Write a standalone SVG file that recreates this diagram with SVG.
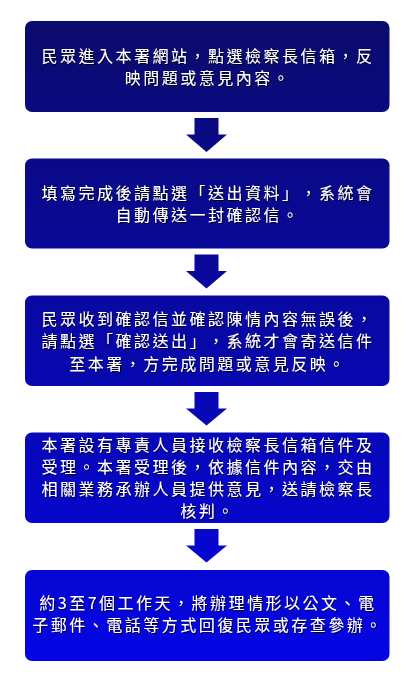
<svg xmlns="http://www.w3.org/2000/svg" width="406" height="682" viewBox="0 0 406 682">
  <defs>
    <linearGradient id="fillGrad" gradientUnits="userSpaceOnUse" x1="0" y1="21" x2="0" y2="661">
      <stop offset="0" stop-color="#0B0B6E"/>
      <stop offset="1" stop-color="#0505E4"/>
    </linearGradient>
    <filter id="shadow" x="-5%" y="-20%" width="110%" height="140%">
      <feDropShadow dx="1" dy="1" stdDeviation="0.4" flood-color="#000000" flood-opacity="0.85"/>
    </filter>
  </defs>
  <style>
    .box { fill: url(#fillGrad); }
    .arrow { fill: url(#fillGrad); }
    .label { fill: #FFFFFF; font-family: "Noto Sans CJK TC", "Noto Sans CJK SC", sans-serif; font-size: 16px; letter-spacing: 2.5px; text-anchor: middle; text-spacing-trim: space-all; filter: url(#shadow); }
  </style>
  <rect width="406" height="682" fill="#FFFFFF"/>

  <g id="connectors">
    <polygon class="arrow" points="194.5,118 218.5,118 218.5,134.5 227,134.5 206.5,152 186,134.5 194.5,134.5"/>
    <polygon class="arrow" points="194.5,254.5 218.5,254.5 218.5,271 227,271 206.5,288.5 186,271 194.5,271"/>
    <polygon class="arrow" points="194.5,392 218.5,392 218.5,408.5 227,408.5 206.5,425.5 186,408.5 194.5,408.5"/>
    <polygon class="arrow" points="194.5,529 218.5,529 218.5,545.5 227,545.5 206.5,562.5 186,545.5 194.5,545.5"/>
  </g>

  <g id="node1">
    <rect class="box" x="25" y="21" width="364.5" height="91" rx="7"/>
    <text class="label" x="208" y="61.5">民眾進入本署網站，點選檢察長信箱，反</text>
    <text class="label" x="208" y="83.5">映問題或意見內容。</text>
  </g>

  <g id="node2">
    <rect class="box" x="25" y="158.5" width="364.5" height="90" rx="7"/>
    <text class="label" x="208" y="198.5">填寫完成後請點選「送出資料」，系統會</text>
    <text class="label" x="208" y="220.5">自動傳送一封確認信。</text>
  </g>

  <g id="node3">
    <rect class="box" x="25" y="295.5" width="364.5" height="90.5" rx="7"/>
    <text class="label" x="208" y="324.5">民眾收到確認信並確認陳情內容無誤後，</text>
    <text class="label" x="208" y="347">請點選「確認送出」，系統才會寄送信件</text>
    <text class="label" x="208" y="369.5">至本署，方完成問題或意見反映。</text>
  </g>

  <g id="node4">
    <rect class="box" x="25" y="432.5" width="364.5" height="90.5" rx="7"/>
    <text class="label" x="208" y="451">本署設有專責人員接收檢察長信箱信件及</text>
    <text class="label" x="208" y="473">受理。本署受理後，依據信件內容，交由</text>
    <text class="label" x="208" y="495">相關業務承辦人員提供意見，送請檢察長</text>
    <text class="label" x="208" y="517">核判。</text>
  </g>

  <g id="node5">
    <rect class="box" x="25" y="570" width="364.5" height="91" rx="7"/>
    <text class="label" x="208" y="608.5">約3至7個工作天，將辦理情形以公文、電</text>
    <text class="label" x="208" y="630.5">子郵件、電話等方式回復民眾或存查參辦。</text>
  </g>
</svg>
